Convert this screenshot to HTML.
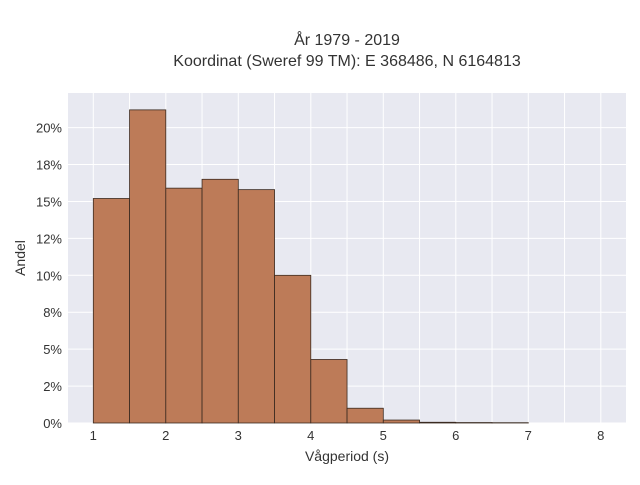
<!DOCTYPE html>
<html><head><meta charset="utf-8"><style>
body{margin:0;background:#fff;font-family:"Liberation Sans",sans-serif;}
text{font-family:"Liberation Sans",sans-serif;fill:#333;}
</style></head><body>
<svg id="chart" width="640" height="480">
<text x="347" y="45" text-anchor="middle" font-size="16">År 1979 - 2019</text>
<text x="347" y="66" text-anchor="middle" font-size="16">Koordinat (Sweref 99 TM): E 368486, N 6164813</text>
<rect x="68" y="93" width="558" height="330" fill="#e8e9f1"/>
<g id="grid"></g><g id="bars"></g><g id="axes"></g>
<text x="347" y="461" text-anchor="middle" font-size="14">Vågperiod (s)</text>
<text x="25" y="258" text-anchor="middle" font-size="14" transform="rotate(-90 25 258)">Andel</text>
</svg>
<script>
const binStarts=[1,1.5,2,2.5,3,3.5,4,4.5,5,5.5,6,6.5];
const binValues=[15.2,21.2,15.9,16.5,15.8,10.0,4.3,1.0,0.2,0.05,0.03,0.02];
const binWidth=0.5;
const yTicks=[0,2.5,5,7.5,10,12.5,15,17.5,20];
const yTickLabels=["0%","2%","5%","8%","10%","12%","15%","18%","20%"];
const xTicks=[1,2,3,4,5,6,7,8];
const X=v=>93.3+(v-1)*72.5;
const Y=v=>423-v*14.77;
const NS="http://www.w3.org/2000/svg";
function mk(t,a,p){const e=document.createElementNS(NS,t);for(const k in a)e.setAttribute(k,a[k]);p.appendChild(e);return e;}
const grid=document.getElementById('grid'),bars=document.getElementById('bars'),axes=document.getElementById('axes');
for(let v=0.5;v<=8.5;v+=0.5){if(X(v)<68||X(v)>626)continue;
 const l=mk('line',{x1:X(v),x2:X(v),y1:93,y2:423,stroke:'#fff','stroke-width':1},grid);
 
 }
yTicks.forEach((v,i)=>{
 const l=mk('line',{x1:68,x2:626,y1:Y(v),y2:Y(v),stroke:'#fff','stroke-width':1},grid);
 
 
 const t=mk('text',{x:62,y:Y(v)+5,'text-anchor':'end','font-size':13},axes);
 t.textContent=yTickLabels[i];
 
 });
xTicks.forEach(v=>{
 const t=mk('text',{x:X(v),y:440,'text-anchor':'middle','font-size':13},axes);
 t.textContent=v;
 
 });
binStarts.forEach((s,i)=>{
 const r=mk('rect',{x:X(s),y:Y(binValues[i]),width:X(s+binWidth)-X(s),height:Y(0)-Y(binValues[i]),fill:'#bd7b58',stroke:'#3a2a20','stroke-width':0.8},bars);
 
 });
</script>
</body></html>
